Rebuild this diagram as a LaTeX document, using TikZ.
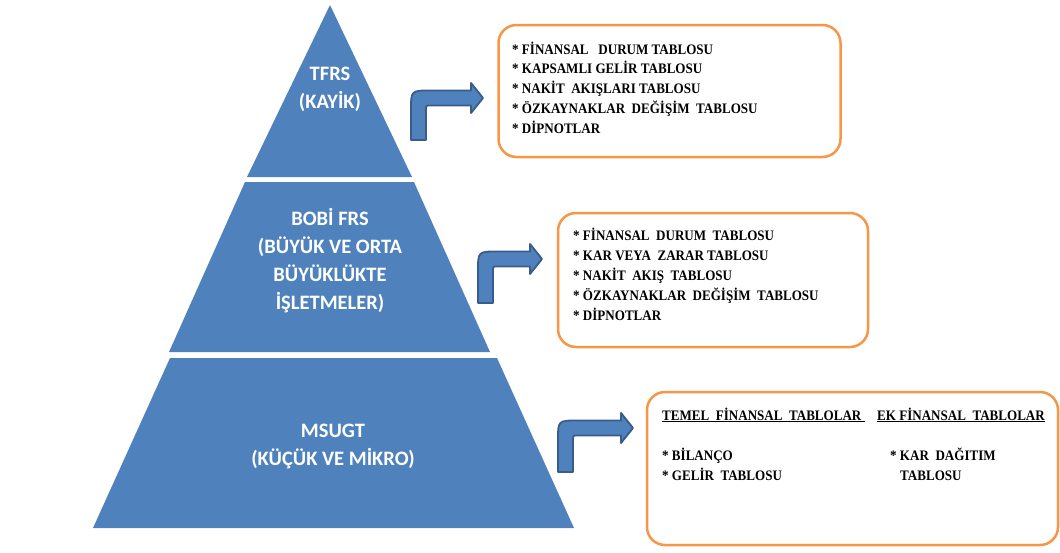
\documentclass[tikz,border=0pt]{standalone}
\usepackage{fontspec}
\setmainfont{Liberation Serif}[FakeStretch=0.9]
\newfontfamily\calibfont{Carlito}
\usetikzlibrary{calc,positioning}

\definecolor{tierblue}{HTML}{4F81BD}
\definecolor{arrowline}{HTML}{385D8A}
\definecolor{boxorange}{HTML}{F79646}

\tikzset{
  tier/.style={fill=tierblue},
  tierlabel/.style={text=white, align=center, font=\calibfont\bfseries\fontsize{20.5}{28}\selectfont},
  infobox/.style={draw=boxorange, line width=2.5pt, rounded corners=18pt, fill=white},
  listline/.style={anchor=base west, inner sep=0pt, font=\bfseries\fontsize{14.5}{16}\selectfont},
  bentarr/.style={fill=tierblue, draw=arrowline, line width=1.8pt, line join=round},
}

\newcommand{\bentarrow}[2]{%
  \draw[bentarr] let \p1=(#1), \p2=(#2) in
    (\x1-7.5pt,\y1) -- (\x1-7.5pt,\y2-12pt) .. controls (\x1-7.5pt,\y2+7.5pt) .. (\x1+12pt,\y2+7.5pt)
    -- (\x2-12pt,\y2+7.5pt) -- (\x2-12pt,\y2+15pt) -- (\x2,\y2) -- (\x2-12pt,\y2-15pt) -- (\x2-12pt,\y2-7.5pt)
    -- (\x1+12pt,\y2-7.5pt) .. controls (\x1+7.5pt,\y2-7.5pt) .. (\x1+7.5pt,\y2-12pt) -- (\x1+7.5pt,\y1) -- cycle;}

\begin{document}
\begin{tikzpicture}[x=1pt,y=-1pt]
  \useasboundingbox (0,0) rectangle (1060,552);

  \fill[tier] (330,5) -- (412,177) -- (247,177) -- cycle;
  \fill[tier] (245,182) -- (414,182) -- (490,352) -- (169,352) -- cycle;
  \fill[tier] (170,358) -- (497,358) -- (574,528) -- (93,528) -- cycle;

  \node[tierlabel] (tfrs) at (330,89) {TFRS\\(KAYİK)};
  \node[tierlabel] (bobi) at (330,261) {BOBİ FRS\\(BÜYÜK VE ORTA\\BÜYÜKLÜKTE\\İŞLETMELER)};
  \node[tierlabel] (msugt) at (333,446) {MSUGT\\(KÜÇÜK VE MİKRO)};

  \node[infobox, minimum width=342, minimum height=132] (box1) at (669.5,91) {};
  \node[infobox, minimum width=310, minimum height=134] (box2) at (713,280) {};
  \node[infobox, minimum width=411, minimum height=153] (box3) at (852.5,468.5) {};

  \foreach \t [count=\i] in {* FİNANSAL~~~DURUM~TABLOSU, * KAPSAMLI~GELİR~TABLOSU,
      * NAKİT~~AKIŞLARI~TABLOSU, * ÖZKAYNAKLAR~~DEĞİŞİM~~TABLOSU, * DİPNOTLAR}
    \node[listline] (aa\i) at (512,{54+19.75*(\i-1)}) {\t};
  \foreach \t [count=\i] in {* FİNANSAL~~DURUM~~TABLOSU, * KAR~VEYA~~ZARAR~TABLOSU,
      * NAKİT~~AKIŞ~~TABLOSU, * ÖZKAYNAKLAR~~DEĞİŞİM~~TABLOSU, * DİPNOTLAR}
    \node[listline] (bb\i) at (573,{240+20*(\i-1)}) {\t};

  \node[listline] (temel) at (662,420) {\underline{TEMEL~~FİNANSAL~~TABLOLAR~}};
  \node[listline] (ek) at (877,420) {\underline{EK~FİNANSAL~~TABLOLAR}};
  \node[listline] (bilanco) at (662,460) {* BİLANÇO};
  \node[listline] (gelir) at (662,480) {* GELİR~~TABLOSU};
  \node[listline] (kar) at (890,460) {* KAR~~DAĞITIM};
  \node[listline] (kartab) at (900,480) {TABLOSU};

  \coordinate (f1) at (418.5,140); \coordinate (t1) at (483,98);
  \coordinate (f2) at (485.5,303); \coordinate (t2) at (542,259);
  \coordinate (f3) at (565.5,472); \coordinate (t3) at (633,428);
  \foreach \i in {1,2,3} {
    \bentarrow{f\i}{t\i}
  }
\end{tikzpicture}
\end{document}
